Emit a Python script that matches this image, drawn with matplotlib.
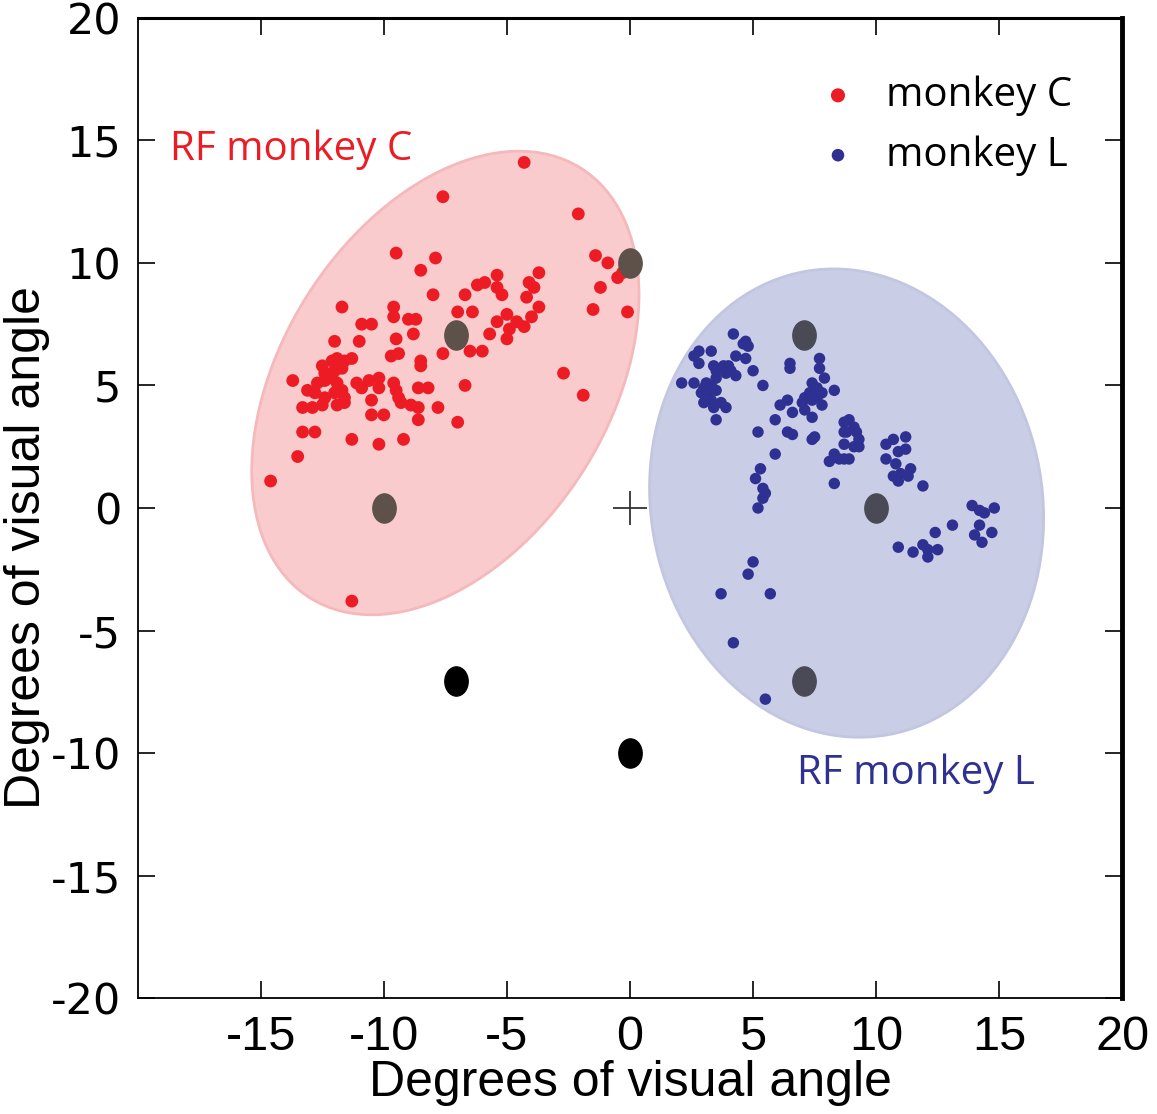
import numpy as np
import matplotlib.pyplot as plt
from matplotlib.patches import Ellipse
from matplotlib.markers import MarkerStyle
from matplotlib.transforms import Affine2D

plt.rcParams['axes.unicode_minus'] = False

# receptive field centres, monkey C (degrees of visual angle)
monkey_c_x = [-4.3, -7.6, -2.1, -9.5, -7.9, -8.5, -1.4, -0.9, -0.5, -0.3, -1.2, -1.5, -0.1,
              -8.0, -6.7, -7.0, -6.4, -6.2, -5.9, -5.4, -5.4, -5.2, -4.1, -3.7, -3.9, -4.2,
              -3.7, -4.0, -4.3, -4.6, -5.0, -5.4, -4.9, -5.0, -5.7, -6.0, -6.5, -7.6,
              -9.6, -9.6, -9.0, -8.7, -8.8, -9.5, -9.7, -9.4, -8.5, -8.5,
              -11.7, -10.9, -10.5, -11.0, -12.0,
              -12.5, -12.1, -11.9, -11.6, -11.3, -12.4, -12.0, -11.7,
              -13.7, -12.7, -12.4, -12.1, -11.9,
              -13.1, -12.8, -12.4, -12.0, -11.7, -11.6,
              -13.3, -12.9, -12.5, -11.9, -11.6,
              -11.1, -10.9, -10.6, -10.2, -10.2,
              -9.6, -9.5, -9.4, -9.3, -10.5, -10.5, -10.0,
              -8.9, -8.6, -8.6, -8.2, -7.8, -8.6, -7.0, -6.7,
              -2.7, -1.9,
              -13.3, -12.8, -11.3, -10.2, -9.2, -13.5, -14.6, -11.3]
monkey_c_y = [14.1, 12.7, 12.0, 10.4, 10.2, 9.7, 10.3, 10.0, 9.4, 9.6, 9.0, 8.1, 8.0,
              8.7, 8.7, 8.0, 8.0, 9.1, 9.2, 9.5, 9.0, 8.7, 9.2, 9.6, 9.0, 8.6,
              8.2, 7.8, 7.4, 7.6, 7.9, 7.6, 7.3, 6.9, 7.1, 6.4, 6.4, 6.3,
              8.2, 7.8, 7.7, 7.7, 7.1, 6.9, 6.2, 6.3, 6.0, 5.8,
              8.2, 7.5, 7.5, 6.8, 6.8,
              5.8, 6.0, 6.1, 6.0, 6.1, 5.5, 5.6, 5.7,
              5.2, 5.1, 5.2, 5.3, 5.1,
              4.8, 4.7, 4.5, 4.7, 4.8, 4.5,
              4.1, 4.1, 4.2, 4.2, 4.3,
              5.1, 4.9, 5.2, 5.3, 4.9,
              5.1, 4.8, 4.5, 4.3, 4.4, 3.8, 3.8,
              4.2, 4.1, 4.9, 4.9, 4.1, 3.6, 3.5, 5.0,
              5.5, 4.6,
              3.1, 3.1, 2.8, 2.6, 2.8, 2.1, 1.1, -3.8]

# receptive field centres, monkey L
monkey_l_x = [4.2, 4.7, 4.8, 4.6, 4.3, 4.7, 2.8, 3.3, 2.6, 2.8, 3.4, 3.5, 3.8, 4.0, 4.1,
              3.9, 4.3, 5.0, 2.1, 2.6, 3.1, 3.5, 3.3, 3.0, 2.9, 3.2, 3.5, 3.0, 3.4, 3.7,
              3.9, 3.3, 3.5, 5.4, 6.5, 6.5, 7.7, 7.7, 7.9, 7.4, 7.6, 7.3, 7.1, 7.0, 7.4,
              7.6, 7.8, 8.3, 7.8, 6.4, 6.1, 6.6, 5.9, 7.4, 7.1, 5.2, 6.4, 6.6, 7.4, 7.5,
              5.9, 8.3, 8.5, 8.1, 8.7, 8.7, 5.3, 5.1, 8.3, 8.9, 9.1, 8.8, 9.2, 9.3, 9.1,
              8.7, 9.3, 8.9, 8.7, 10.4, 10.7, 11.2, 10.9, 11.2, 10.4, 10.8, 10.7, 10.9,
              11.0, 11.4, 11.3, 11.9, 13.9, 14.2, 14.4, 14.8, 13.1, 14.2, 14.0, 14.3,
              14.7, 12.4, 10.9, 11.5, 11.9, 12.1, 12.5, 12.1, 5.4, 5.5, 5.4, 5.2,
              5.0, 4.8, 3.7, 5.7, 4.2, 5.5]
monkey_l_y = [7.1, 6.8, 6.6, 6.7, 6.2, 6.1, 6.4, 6.4, 6.2, 5.9, 5.8, 5.6, 5.8, 5.8, 5.6,
              5.5, 5.4, 5.6, 5.1, 5.1, 5.1, 5.3, 5.0, 4.9, 4.7, 4.7, 4.8, 4.3, 4.1, 4.3,
              4.1, 4.4, 3.6, 5.0, 5.9, 5.7, 6.1, 5.7, 5.3, 5.1, 4.9, 4.7, 4.5, 4.3, 4.4,
              4.5, 4.7, 4.8, 4.2, 4.4, 4.2, 3.9, 3.6, 3.7, 4.0, 3.1, 3.1, 3.0, 2.8, 2.9,
              2.2, 2.2, 2.0, 1.9, 3.5, 3.1, 1.6, 1.2, 1.0, 3.6, 3.3, 3.1, 3.1, 2.8, 2.5,
              2.6, 2.5, 2.0, 2.0, 2.6, 2.8, 2.9, 2.3, 2.4, 2.0, 1.8, 1.3, 1.1,
              1.4, 1.6, 1.3, 0.9, 0.1, -0.1, -0.2, 0.0, -0.7, -0.7, -1.1, -1.4,
              -1.0, -1.0, -1.6, -1.8, -1.5, -1.7, -1.7, -2.0, 0.8, 0.6, 0.4, 0.0,
              -2.2, -2.7, -3.5, -3.5, -5.5, -7.8]

# stimulus positions (8 positions at 10 deg eccentricity)
stim_x = [-10, -7.07, 0, 7.07, 10, 7.07, -7.07, 0]
stim_y = [0, 7.07, 10, 7.07, 0, -7.07, -7.07, -10]

# RF ellipses: centre, width, height, angle
rf_c = dict(center=(-7.5, 5.1), width=20.7, height=13.3, angle=58)
rf_l = dict(center=(8.8, 0.2), width=15.9, height=19.2, angle=10)

xticks = [-15, -10, -5, 0, 5, 10, 15, 20]
yticks = [-20, -15, -10, -5, 0, 5, 10, 15, 20]

label_font = ['Liberation Sans', 'DejaVu Sans']
plain = ['Open Sans', 'DejaVu Sans']

fig = plt.figure(figsize=(11.57, 11.14), dpi=100)
ax = fig.add_axes([0.119, 0.104, 0.851, 0.880])

# 1. RF ellipses
ell_c = Ellipse(rf_c['center'], rf_c['width'], rf_c['height'], angle=rf_c['angle'],
                facecolor='#f9cbcd', edgecolor='#f5b9bb', linewidth=2, zorder=1)
ell_l = Ellipse(rf_l['center'], rf_l['width'], rf_l['height'], angle=rf_l['angle'],
                facecolor='#c9cde5', edgecolor='#c2c6e0', linewidth=2, zorder=1)
ax.add_patch(ell_c)
ax.add_patch(ell_l)

# 2. RF centres
ax.scatter(monkey_c_x, monkey_c_y, s=85, color='#ed1c24', edgecolors='none',
           zorder=3, label='monkey C')
ax.scatter(monkey_l_x, monkey_l_y, s=68, color='#2e3192', edgecolors='none',
           zorder=3, label='monkey L')

# 3. stimulus dots, greyed where they sit under an RF ellipse
oval = MarkerStyle('o', transform=Affine2D().scale(0.8, 1.0))
path_c = ell_c.get_path().transformed(ell_c.get_patch_transform())
path_l = ell_l.get_path().transformed(ell_l.get_patch_transform())
for sx, sy in zip(stim_x, stim_y):
    if path_c.contains_point((sx, sy)):
        col = '#5e5149'
    elif path_l.contains_point((sx, sy)):
        col = '#4a4a57'
    else:
        col = 'black'
    ax.plot(sx, sy, marker=oval, markersize=21, color=col, linestyle='none', zorder=4)

# fixation cross
ax.plot(0, 0, marker='+', markersize=24, mew=1.3, color='#333333', zorder=4)

ax.text(-18.7, 14.6, 'RF monkey C', color='#ed1c24', fontsize=29, family=plain,
        va='center')
ax.text(6.8, -10.85, 'RF monkey L', color='#2e3192', fontsize=29, family=plain,
        va='center')

ax.legend(loc='upper right', bbox_to_anchor=(0.978, 0.97), frameon=False,
          prop={'family': plain, 'size': 29}, handletextpad=0.2,
          labelspacing=0.48, markerscale=1.1, borderaxespad=0.3)

ax.set_xlim(-20, 20)
ax.set_ylim(-20, 20)
ax.set_xticks(xticks)
ax.set_yticks(yticks)
ax.tick_params(direction='in', length=12, width=1.2, top=True, right=True, pad=12)
for lab in ax.get_xticklabels():
    lab.set_family(label_font)
    lab.set_fontsize(35)
for lab in ax.get_yticklabels():
    lab.set_family(['DejaVu Sans'])
    lab.set_fontsize(31)

ax.spines['left'].set_linewidth(1.3)
ax.spines['bottom'].set_linewidth(1.3)
ax.spines['top'].set_linewidth(2.2)
ax.spines['right'].set_linewidth(3.5)

ax.set_xlabel('Degrees of visual angle', fontsize=36, family=label_font, labelpad=0)
ax.set_ylabel('Degrees of visual angle', fontsize=36, family=label_font)
ax.yaxis.set_label_coords(-0.089, 0.46)

plt.savefig('out.png', dpi=100)
plt.close()
